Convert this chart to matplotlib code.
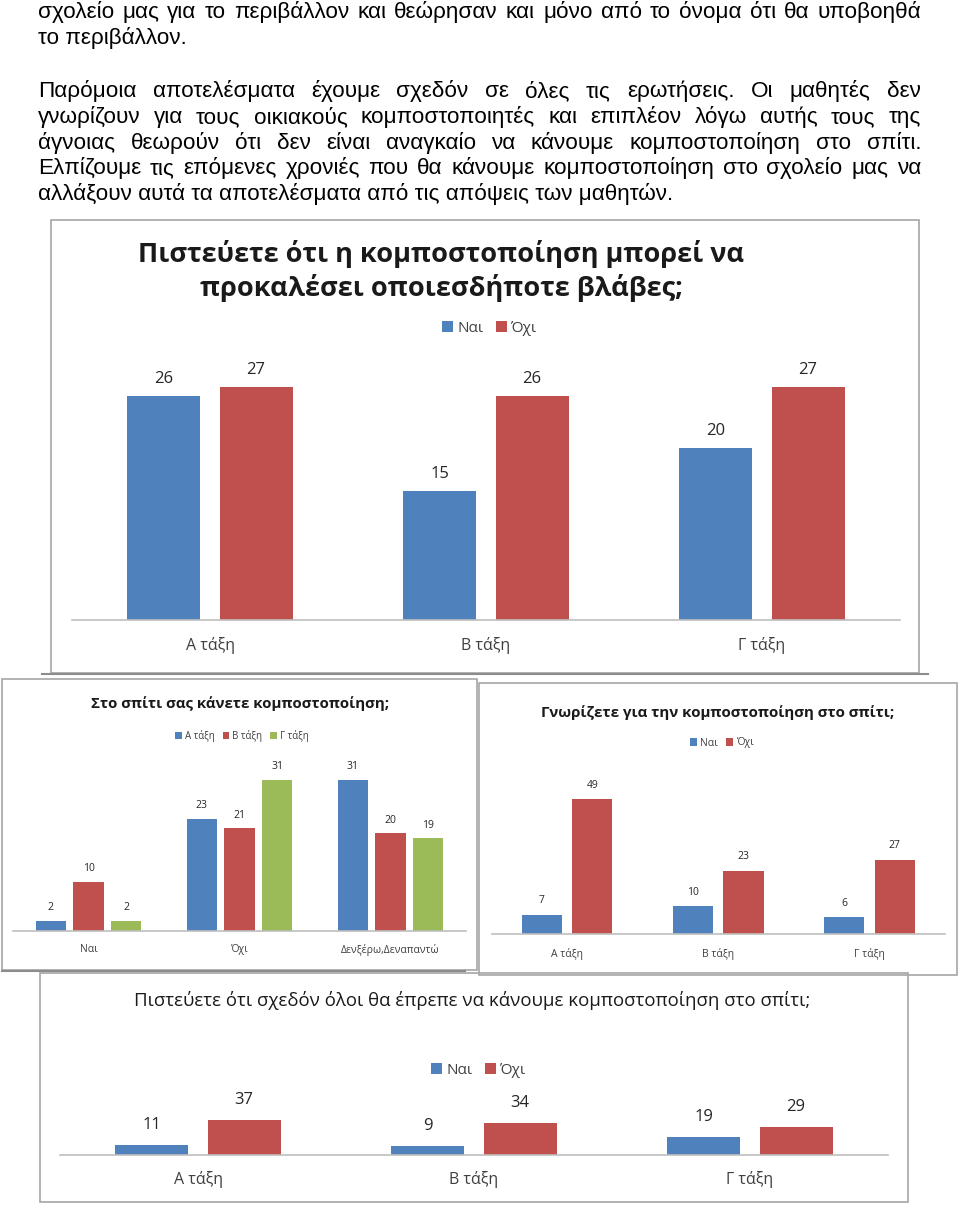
import matplotlib
matplotlib.use('Agg')
import matplotlib.pyplot as plt
from matplotlib.patches import Rectangle

# page size in pixels
W, H = 960, 1206
BLUE, RED, GREEN = '#4F81BD', '#C0504D', '#9BBB59'
CHART_FONT = ['Open Sans', 'DejaVu Sans']
PAGE_FONT = ['Liberation Sans', 'DejaVu Sans']

# report text above the charts
page_lines = [
    "σχολείο μας για το περιβάλλον και θεώρησαν και μόνο από το όνομα ότι θα υποβοηθά",
    "το περιβάλλον.",
    "Παρόμοια αποτελέσματα έχουμε σχεδόν σε όλες τις ερωτήσεις. Οι μαθητές δεν",
    "γνωρίζουν για τους οικιακούς κομποστοποιητές και επιπλέον λόγω αυτής τους της",
    "άγνοιας θεωρούν ότι δεν είναι αναγκαίο να κάνουμε κομποστοποίηση στο σπίτι.",
    "Ελπίζουμε τις επόμενες χρονιές που θα κάνουμε κομποστοποίηση στο σχολείο μας να",
    "αλλάξουν αυτά τα αποτελέσματα από τις απόψεις των μαθητών.",
]
justified = [True, False, True, True, True, True, False]

# chart data
classes = ['Α τάξη', 'Β τάξη', 'Γ τάξη']
answers = ['Ναι', 'Όχι']

harm_title = "Πιστεύετε ότι η κομποστοποίηση μπορεί να\nπροκαλέσει οποιεσδήποτε βλάβες;"
harm_yes = [26, 15, 20]
harm_no = [27, 26, 27]

home_title = "Στο σπίτι σας κάνετε κομποστοποίηση;"
home_cats = ['Ναι', 'Όχι', 'Δενξέρω,Δεναπαντώ']
home_a = [2, 23, 31]
home_b = [10, 21, 20]
home_c = [2, 31, 19]

know_title = "Γνωρίζετε για την κομποστοποίηση στο σπίτι;"
know_yes = [7, 10, 6]
know_no = [49, 23, 27]

all_title = "Πιστεύετε ότι σχεδόν όλοι θα έπρεπε να κάνουμε κομποστοποίηση στο σπίτι;"
all_yes = [11, 9, 19]
all_no = [37, 34, 29]


fig = plt.figure(figsize=(W / 100, H / 100), dpi=100)
bg = fig.add_axes([0, 0, 1, 1])
bg.set_xlim(0, W)
bg.set_ylim(H, 0)
bg.axis('off')

#page text, justified like the document
X0, X1 = 38, 921
baselines = [18, 44, 97, 123, 149, 174, 200]
TXT = 16.2
renderer = fig.canvas.get_renderer()
for line, y, just in zip(page_lines, baselines, justified):
    if not just:
        bg.text(X0, y, line, fontsize=TXT, family=PAGE_FONT, va='baseline', color='black')
        continue
    words = line.split(' ')
    objs = [bg.text(0, y, w, fontsize=TXT, family=PAGE_FONT, va='baseline', color='black') for w in words]
    widths = [o.get_window_extent(renderer).width for o in objs]
    gap = (X1 - X0 - sum(widths)) / (len(words) - 1)
    x = X0
    for o, w in zip(objs, widths):
        o.set_x(x)
        x += w + gap

#chart frames
def frame(x0, y0, x1, y1):
    bg.add_patch(Rectangle((x0, y0), x1 - x0, y1 - y0, fill=False, ec='#A6A6A6', lw=1.2))

frame(51, 220, 919, 673)
bg.plot([42, 928], [673.5, 673.5], color='#8C8C8C', lw=1.5)
frame(2, 679, 477, 970)
bg.plot([2, 465], [970.5, 970.5], color='#8C8C8C', lw=1.5)
frame(479, 683, 957, 975)
frame(40, 973, 908, 1202)


def px_axes(x0, y0, x1, y1):
    return fig.add_axes([x0 / W, 1 - y1 / H, (x1 - x0) / W, (y1 - y0) / H])


def style(ax, ymax):
    ax.set_xlim(-0.5, 2.5)
    ax.set_ylim(0, ymax)
    for s in ['top', 'right', 'left']:
        ax.spines[s].set_visible(False)
    ax.spines['bottom'].set_color('#BFBFBF')
    ax.spines['bottom'].set_linewidth(1.2)
    ax.set_xticks([])
    ax.set_yticks([])
    ax.patch.set_alpha(0)


def value_labels(ax, bars, vals, off, size):
    for b, v in zip(bars, vals):
        ax.annotate(str(v), (b.get_x() + b.get_width() / 2, v), xytext=(0, off),
                    textcoords='offset pixels', ha='center', va='center',
                    fontsize=size, family=CHART_FONT, color='#262626', annotation_clip=False)


def cat_labels(ax, cats, off, size):
    for i, c in enumerate(cats):
        ax.annotate(c, (i, 0), xytext=(0, -off), textcoords='offset pixels',
                    ha='center', va='center', fontsize=size, family=CHART_FONT,
                    color='#404040', annotation_clip=False)


def legend(ax, handles, labels, cx, cy, size, col_sp):
    ax.legend(handles, labels, loc='center', bbox_to_anchor=(cx / W, 1 - cy / H),
              bbox_transform=fig.transFigure, ncol=len(labels), frameon=False,
              handlelength=0.7, handleheight=0.7, handletextpad=0.3,
              columnspacing=col_sp, prop={'family': CHART_FONT, 'size': size},
              labelcolor='#404040')


xs = range(len(classes))

# chart 1
ax1 = px_axes(72, 361.5, 900, 620)
style(ax1, 30)
b1 = ax1.bar([x - 0.167 for x in xs], harm_yes, 0.264, color=BLUE)
b2 = ax1.bar([x + 0.167 for x in xs], harm_no, 0.264, color=RED)
value_labels(ax1, b1, harm_yes, 17, 12)
value_labels(ax1, b2, harm_no, 17, 12)
cat_labels(ax1, classes, 25, 11.5)
legend(ax1, [b1, b2], answers, 490, 328, 11, 0.8)
bg.text(441, 271, harm_title, ha='center', va='center', fontsize=19.5, fontweight='bold',
        family=CHART_FONT, color='#1a1a1a', linespacing=1.3)

# chart 2
ax2 = px_axes(13, 760, 466, 930.7)
style(ax2, 35)
c1 = ax2.bar([x - 0.25 for x in xs], home_a, 0.2, color=BLUE)
c2 = ax2.bar([x for x in xs], home_b, 0.2, color=RED)
c3 = ax2.bar([x + 0.25 for x in xs], home_c, 0.2, color=GREEN)
value_labels(ax2, c1, home_a, 13, 7.5)
value_labels(ax2, c2, home_b, 13, 7.5)
value_labels(ax2, c3, home_c, 13, 7.5)
cat_labels(ax2, home_cats, 19, 7.5)
legend(ax2, [c1, c2, c3], classes, 242, 736, 7, 0.8)
bg.text(240, 704, home_title, ha='center', va='center', fontsize=10.8, fontweight='bold',
        family=CHART_FONT, color='#1a1a1a')

# chart 3
ax3 = px_axes(491.5, 782.5, 945, 934)
style(ax3, 55)
d1 = ax3.bar([x - 0.167 for x in xs], know_yes, 0.265, color=BLUE)
d2 = ax3.bar([x + 0.167 for x in xs], know_no, 0.265, color=RED)
value_labels(ax3, d1, know_yes, 14, 7.5)
value_labels(ax3, d2, know_no, 14, 7.5)
cat_labels(ax3, classes, 20, 7.5)
legend(ax3, [d1, d2], answers, 722, 743, 7.5, 0.8)
bg.text(718, 713, know_title, ha='center', va='center', fontsize=10.9, fontweight='bold',
        family=CHART_FONT, color='#1a1a1a')

# chart 4
ax4 = px_axes(60, 1117, 888, 1155)
style(ax4, 40)
e1 = ax4.bar([x - 0.167 for x in xs], all_yes, 0.265, color=BLUE)
e2 = ax4.bar([x + 0.167 for x in xs], all_no, 0.265, color=RED)
value_labels(ax4, e1, all_yes, 20, 12)
value_labels(ax4, e2, all_no, 20, 12)
cat_labels(ax4, classes, 25, 11.5)
legend(ax4, [e1, e2], answers, 479, 1070, 11, 0.8)
bg.text(472, 1000, all_title, ha='center', va='center', fontsize=13.4,
        family=CHART_FONT, color='#1a1a1a')

plt.savefig('out.png', dpi=100)
